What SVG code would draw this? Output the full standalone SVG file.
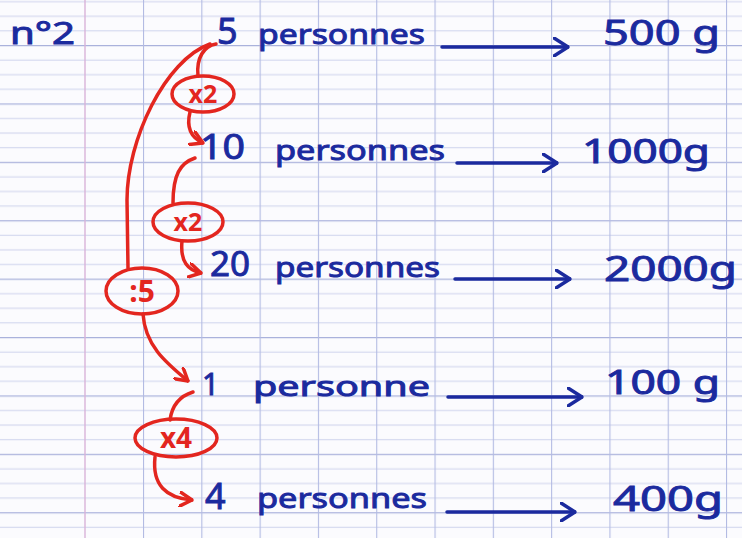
<svg xmlns="http://www.w3.org/2000/svg" width="742" height="538" viewBox="0 0 742 538">
  <defs>
    <style>
      .blue{fill:#1b2a9e;stroke:#1b2a9e;stroke-width:0.9;font-family:"Noto Sans","DejaVu Sans",sans-serif;}
      .red{fill:#e3261f;font-family:"Noto Sans","DejaVu Sans",sans-serif;font-weight:bold;}
      .bl{stroke:#1b2a9e;stroke-width:3.5;fill:none;stroke-linecap:round;stroke-linejoin:round;}
      .rl{stroke:#e3261f;stroke-width:3.5;fill:none;stroke-linecap:round;stroke-linejoin:round;}
    </style>
    <pattern id="hlines" patternUnits="userSpaceOnUse" x="0" y="45" width="742" height="58.4">
      <line x1="0" y1="0.5" x2="742" y2="0.5" stroke="#aab2dc" stroke-width="1.4"/>
      <line x1="0" y1="15.1" x2="742" y2="15.1" stroke="#cdd2ec" stroke-width="1"/>
      <line x1="0" y1="29.7" x2="742" y2="29.7" stroke="#cdd2ec" stroke-width="1"/>
      <line x1="0" y1="44.3" x2="742" y2="44.3" stroke="#cdd2ec" stroke-width="1"/>
    </pattern>
    <pattern id="vlines" patternUnits="userSpaceOnUse" x="143" y="0" width="58.3" height="538">
      <line x1="0.5" y1="0" x2="0.5" y2="538" stroke="#b3bbe3" stroke-width="1.2"/>
    </pattern>
    <marker id="ba" viewBox="0 0 16 20" refX="15" refY="10" markerWidth="16" markerHeight="20" markerUnits="userSpaceOnUse" orient="auto">
      <path d="M1,1 L15,10 L1,19" stroke="#1b2a9e" stroke-width="3.5" fill="none" stroke-linecap="round" stroke-linejoin="round"/>
    </marker>
    <marker id="ra" viewBox="0 0 14 16" refX="13" refY="8" markerWidth="14" markerHeight="16" markerUnits="userSpaceOnUse" orient="auto">
      <path d="M1,1 L13,8 L1,15" stroke="#e3261f" stroke-width="3.5" fill="none" stroke-linecap="round" stroke-linejoin="round"/>
    </marker>
  </defs>

  <!-- paper -->
  <rect x="0" y="0" width="742" height="538" fill="#fbfbfe"/>
  <rect x="0" y="0" width="742" height="538" fill="url(#hlines)"/>
  <rect x="143" y="0" width="599" height="538" fill="url(#vlines)"/>
  <line x1="85" y1="0" x2="85" y2="538" stroke="#d9b3d9" stroke-width="1.4"/>

  <g id="title">
    <text class="blue" x="10" y="44" font-size="30" textLength="65" lengthAdjust="spacingAndGlyphs">n°2</text>
  </g>

  <g id="row1">
    <text class="blue" x="217" y="44" font-size="36">5</text>
    <text class="blue" x="258" y="44" font-size="27" textLength="167" lengthAdjust="spacingAndGlyphs">personnes</text>
    <text class="blue" x="603" y="45" font-size="34" textLength="117" lengthAdjust="spacingAndGlyphs">500 g</text>
  </g>
  <g id="row2">
    <text class="blue" x="200" y="159" font-size="34" textLength="45" lengthAdjust="spacingAndGlyphs">10</text>
    <text class="blue" x="275" y="160" font-size="27" textLength="170" lengthAdjust="spacingAndGlyphs">personnes</text>
    <text class="blue" x="582" y="163" font-size="32" textLength="128" lengthAdjust="spacingAndGlyphs">1000g</text>
  </g>
  <g id="row3">
    <text class="blue" x="210" y="276" font-size="34" textLength="40" lengthAdjust="spacingAndGlyphs">20</text>
    <text class="blue" x="275" y="277" font-size="27" textLength="165" lengthAdjust="spacingAndGlyphs">personnes</text>
    <text class="blue" x="604" y="281" font-size="34" textLength="133" lengthAdjust="spacingAndGlyphs">2000g</text>
  </g>
  <g id="row4">
    <text class="blue" x="202" y="395" font-size="30">1</text>
    <text class="blue" x="253" y="396" font-size="27" textLength="177" lengthAdjust="spacingAndGlyphs">personne</text>
    <text class="blue" x="605" y="394" font-size="32" textLength="115" lengthAdjust="spacingAndGlyphs">100 g</text>
  </g>
  <g id="row5">
    <text class="blue" x="205" y="509" font-size="36">4</text>
    <text class="blue" x="257" y="508" font-size="27" textLength="170" lengthAdjust="spacingAndGlyphs">personnes</text>
    <text class="blue" x="613" y="511" font-size="34" textLength="110" lengthAdjust="spacingAndGlyphs">400g</text>
  </g>

  <g id="op-x2a">
    <ellipse class="rl" cx="203" cy="94" rx="31" ry="18"/>
    <text class="red" x="203" y="103" font-size="25" text-anchor="middle">x2</text>
  </g>
  <g id="op-x2b">
    <ellipse class="rl" cx="188" cy="222" rx="35" ry="19"/>
    <text class="red" x="188" y="231" font-size="25" text-anchor="middle">x2</text>
  </g>
  <g id="op-div5">
    <ellipse class="rl" cx="142" cy="291" rx="36" ry="23"/>
    <text class="red" x="142" y="302" font-size="30" text-anchor="middle">:5</text>
  </g>
  <g id="op-x4">
    <ellipse class="rl" cx="176" cy="438" rx="41" ry="19"/>
    <text class="red" x="176" y="448" font-size="28" text-anchor="middle">x4</text>
  </g>

  <g id="connectors">
    <path class="bl" d="M442 47 L568 47" marker-end="url(#ba)"/>
    <path class="bl" d="M457 163 L557 163" marker-end="url(#ba)"/>
    <path class="bl" d="M455 279 L570 279" marker-end="url(#ba)"/>
    <path class="bl" d="M448 397 L582 397" marker-end="url(#ba)"/>
    <path class="bl" d="M447 512 L575 512" marker-end="url(#ba)"/>

    <path class="rl" d="M216 44 C204 46 196 58 198 76"/>
    <path class="rl" d="M190 112 C186 128 192 138 203 143" marker-end="url(#ra)"/>
    <path class="rl" d="M210 44 C165 60 127 140 127 200 L128 268"/>
    <path class="rl" d="M143 314 C145 345 165 362 188 381" marker-end="url(#ra)"/>
    <path class="rl" d="M195 158 C180 163 173 175 173 203"/>
    <path class="rl" d="M182 241 C180 262 188 270 201 273" marker-end="url(#ra)"/>
    <path class="rl" d="M193 392 C180 396 172 405 170 420"/>
    <path class="rl" d="M155 457 C152 485 166 498 192 500" marker-end="url(#ra)"/>
  </g>
</svg>
